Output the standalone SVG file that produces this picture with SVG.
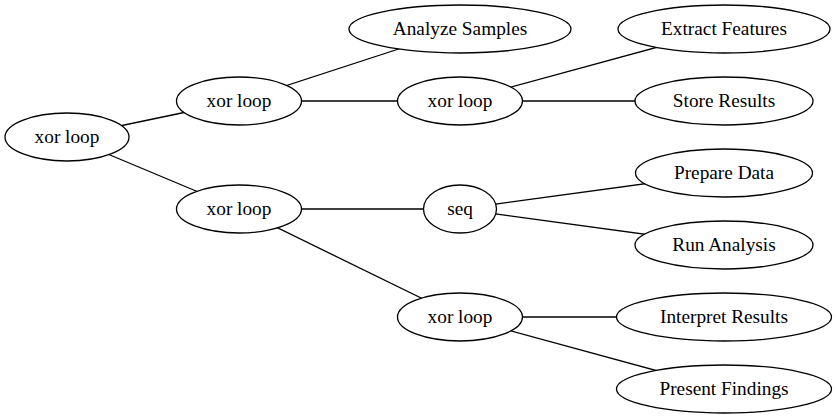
<svg xmlns="http://www.w3.org/2000/svg" width="837" height="419" viewBox="0 0 837 419">
<style>
.n ellipse{fill:#fff;stroke:#000;stroke-width:1.3}
.n text{font-family:'Liberation Serif','Times New Roman',serif;font-size:19.3px;text-anchor:middle;fill:#000}
#edges line{stroke:#000;stroke-width:1.3}
</style>
<rect width="837" height="419" fill="#fff"/>
<g id="edges">
<line x1="67" y1="137" x2="239" y2="101"/>
<line x1="67" y1="137" x2="239" y2="209"/>
<line x1="239" y1="101" x2="460" y2="29"/>
<line x1="239" y1="101" x2="460" y2="101"/>
<line x1="460" y1="101" x2="724" y2="29"/>
<line x1="460" y1="101" x2="724" y2="101"/>
<line x1="239" y1="209" x2="460" y2="209"/>
<line x1="239" y1="209" x2="460" y2="317"/>
<line x1="460" y1="209" x2="724" y2="173"/>
<line x1="460" y1="209" x2="724" y2="245"/>
<line x1="460" y1="317" x2="724" y2="317"/>
<line x1="460" y1="317" x2="724" y2="389"/>
</g>
<g id="root" class="n"><ellipse cx="67" cy="137" rx="62" ry="24"/><text x="67" y="142.5">xor loop</text></g>
<g id="xorA" class="n"><ellipse cx="239" cy="101" rx="62.5" ry="24"/><text x="239" y="106.5">xor loop</text></g>
<g id="xorB" class="n"><ellipse cx="239" cy="209" rx="62.5" ry="24"/><text x="239" y="214.5">xor loop</text></g>
<g id="analyze" class="n"><ellipse cx="460" cy="29" rx="111" ry="24"/><text x="460" y="34.5">Analyze Samples</text></g>
<g id="xorC" class="n"><ellipse cx="460" cy="101" rx="62.5" ry="24"/><text x="460" y="106.5">xor loop</text></g>
<g id="seq" class="n"><ellipse cx="460" cy="209" rx="36.5" ry="24"/><text x="460" y="214.5">seq</text></g>
<g id="xorD" class="n"><ellipse cx="460" cy="317" rx="62.5" ry="24"/><text x="460" y="322.5">xor loop</text></g>
<g id="extract" class="n"><ellipse cx="724" cy="29" rx="106" ry="24"/><text x="724" y="34.5">Extract Features</text></g>
<g id="store" class="n"><ellipse cx="724" cy="101" rx="89" ry="24"/><text x="724" y="106.5">Store Results</text></g>
<g id="prepare" class="n"><ellipse cx="724" cy="173" rx="88.5" ry="24"/><text x="724" y="178.5">Prepare Data</text></g>
<g id="run" class="n"><ellipse cx="724" cy="245" rx="89" ry="24"/><text x="724" y="250.5">Run Analysis</text></g>
<g id="interpret" class="n"><ellipse cx="724" cy="317" rx="107.5" ry="24"/><text x="724" y="322.5">Interpret Results</text></g>
<g id="present" class="n"><ellipse cx="724" cy="389" rx="107.5" ry="24"/><text x="724" y="394.5">Present Findings</text></g>
</svg>
